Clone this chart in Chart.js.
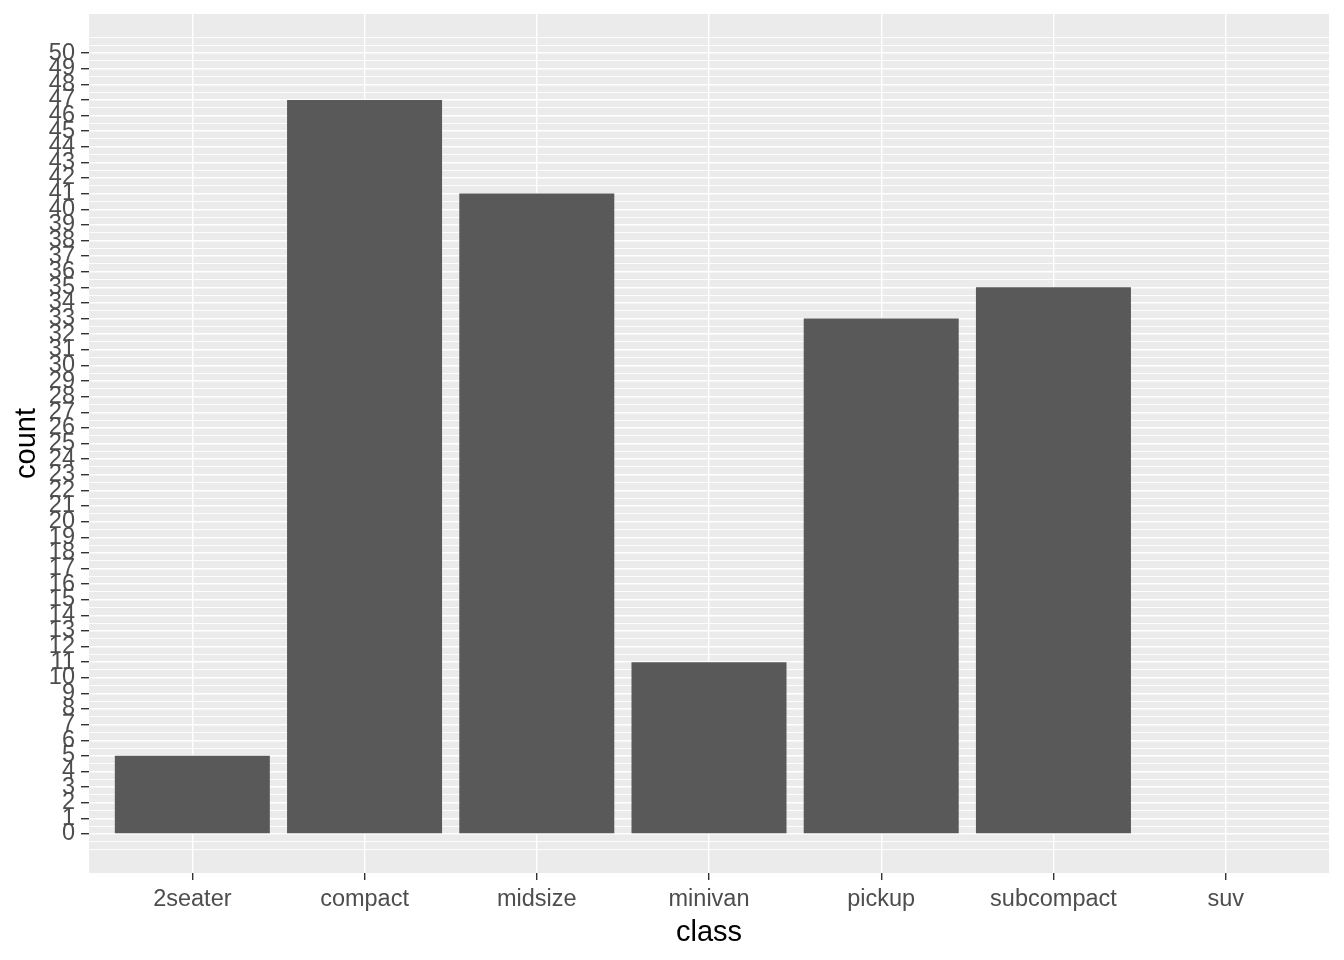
<!DOCTYPE html>
<html>
<head>
<meta charset="utf-8">
<script src="https://cdn.jsdelivr.net/npm/chart.js@4"></script>
<style>
  body { margin: 0; background: #fff; }
  canvas { display: block; }
</style>
</head>
<body>
<canvas id="grafico" width="1344" height="960"></canvas>
<script>
// dados do gráfico
const classes = ['2seater', 'compact', 'midsize', 'minivan', 'pickup', 'subcompact', 'suv'];
const contagens = [5, 47, 41, 11, 33, 35, null]; // suv fica fora do limite (0-50)
const yLabels = Array.from({length: 51}, (_, i) => i); // 0..50
const yGrade = Array.from({length: 105}, (_, i) => -1 + i * 0.5); // -1..51, linhas a cada 0.5

const fonte = "'Liberation Sans', Arial, sans-serif";

function ehInteiro(v) {
    return Math.abs(v - Math.round(v)) < 1e-6 && v >= 0 && v <= 50;
}

const ctx = document.getElementById('grafico').getContext('2d');
new Chart(ctx, {
    type: 'bar',
    data: {
        datasets: [{
            data: classes.map((c, i) => ({x: i + 1, y: contagens[i]})),
            backgroundColor: '#595959',
            borderWidth: 0,
            barPercentage: 0.9,
            categoryPercentage: 1.0
        }]
    },
    options: {
        responsive: false,
        animation: false,
        layout: { padding: { top: 14, right: 15, left: 0, bottom: 0 } },
        plugins: {
            legend: { display: false },
            tooltip: { enabled: false }
        },
        scales: {
            x: {
                type: 'linear',
                min: 0.4,
                max: 7.6,
                offset: false,
                afterBuildTicks: s => { s.ticks = classes.map((c, i) => ({value: i + 1})); },
                afterFit: s => { s.height = 87; s.paddingLeft = 0; s.paddingRight = 0; },
                border: { display: false },
                grid: {
                    offset: false,
                    color: '#ffffff',
                    lineWidth: 1.4,
                    tickColor: '#333333',
                    tickLength: 7,
                    tickWidth: 1.4
                },
                ticks: {
                    autoSkip: false,
                    maxRotation: 0,
                    padding: 5,
                    color: '#4d4d4d',
                    font: { family: fonte, size: 23.5 },
                    callback: v => classes[Math.round(v) - 1] || ''
                },
                title: {
                    display: true,
                    text: 'class',
                    color: '#000000',
                    font: { family: fonte, size: 29 },
                    padding: { top: 0, bottom: 10 }
                }
            },
            y: {
                min: -2.5,
                max: 52.5,
                afterBuildTicks: s => { s.ticks = yGrade.map(v => ({value: v})); },
                afterFit: s => { s.width = 89; s.paddingTop = 0; s.paddingBottom = 0; },
                border: { display: false },
                grid: {
                    color: '#ffffff',
                    lineWidth: c => ehInteiro(c.tick.value) ? 1.4 : 0.9,
                    tickColor: c => ehInteiro(c.tick.value) ? '#333333' : 'rgba(0,0,0,0)',
                    tickLength: 8,
                    tickWidth: 1.4
                },
                ticks: {
                    autoSkip: false,
                    padding: 6,
                    color: '#4d4d4d',
                    font: { family: fonte, size: 23.5 },
                    callback: v => ehInteiro(v) && yLabels.includes(Math.round(v)) ? String(Math.round(v)) : ''
                },
                title: {
                    display: true,
                    text: 'count',
                    color: '#000000',
                    font: { family: fonte, size: 29 },
                    padding: { top: 10, bottom: 0 }
                }
            }
        }
    },
    plugins: [{
        id: 'fundoPainel',
        beforeDraw: chart => {
            const a = chart.chartArea;
            const c = chart.ctx;
            c.save();
            c.fillStyle = '#ebebeb';
            c.fillRect(a.left, a.top, a.right - a.left, a.bottom - a.top);
            c.restore();
        }
    }]
});
</script>
</body>
</html>
